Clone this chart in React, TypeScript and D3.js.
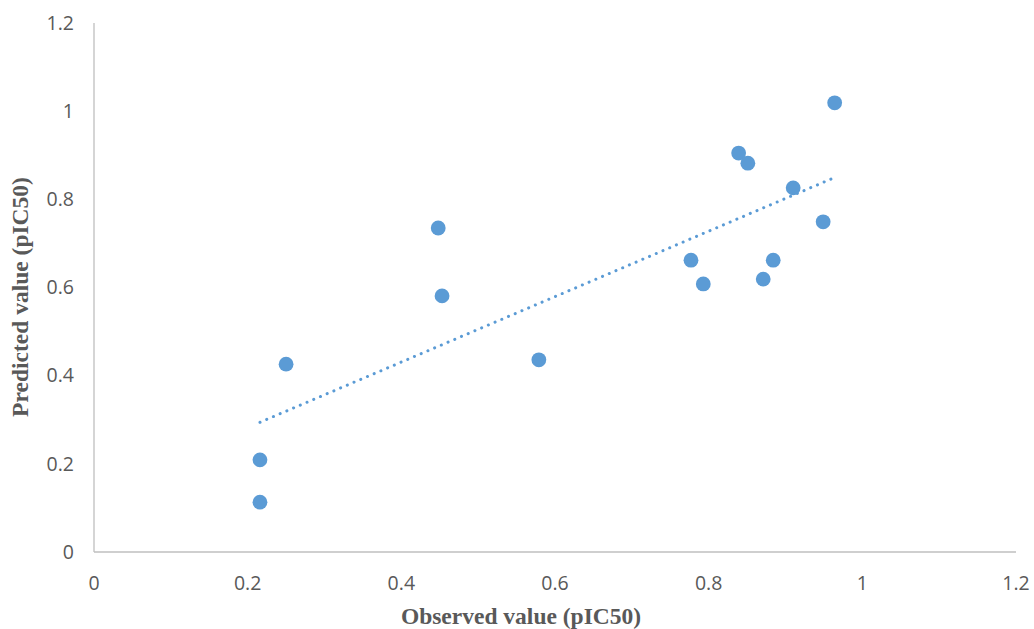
import React from "react";
import * as d3 from "d3";

// observed vs predicted pIC50 values
const observed = [0.216, 0.216, 0.25, 0.448, 0.453, 0.579, 0.777, 0.793, 0.839, 0.851, 0.871, 0.884, 0.91, 0.949, 0.964];
const predicted = [0.209, 0.113, 0.426, 0.735, 0.581, 0.436, 0.662, 0.608, 0.905, 0.882, 0.619, 0.662, 0.826, 0.749, 1.019];
const xTicks = [0, 0.2, 0.4, 0.6, 0.8, 1, 1.2];
const yTicks = [0, 0.2, 0.4, 0.6, 0.8, 1, 1.2];

const W = 1034;
const H = 629;
const margin = { top: 23, right: 18, bottom: 77, left: 94 };

export default function App() {
  const width = W - margin.left - margin.right;
  const height = H - margin.top - margin.bottom;

  const x = d3.scaleLinear().domain([0, 1.2]).range([0, width]);
  const y = d3.scaleLinear().domain([0, 1.2]).range([height, 0]);

  // linear trendline (least squares)
  const mx = d3.mean(observed) as number;
  const my = d3.mean(predicted) as number;
  let sxy = 0, sxx = 0;
  observed.forEach((v, i) => {
    sxy += (v - mx) * (predicted[i] - my);
    sxx += (v - mx) * (v - mx);
  });
  const slope = sxy / sxx;
  const icpt = my - slope * mx;
  const [x0, x1] = d3.extent(observed) as [number, number];
  const trend = d3.line<number>().x(d => x(d)).y(d => y(slope * d + icpt));

  const tickFont = "'Open Sans', 'Liberation Sans', sans-serif";
  const titleFont = "'Liberation Serif', 'Times New Roman', serif";

  return (
    <svg width={W} height={H} style={{ position: "absolute", left: 0, top: 0, background: "#fff" }}>
      <g transform={`translate(${margin.left},${margin.top})`}>
        <line x1={0} x2={0} y1={0} y2={height} stroke="#BFBFBF" strokeWidth={1.3} />
        <line x1={0} x2={width} y1={height} y2={height} stroke="#BFBFBF" strokeWidth={1.3} />
        {yTicks.map(t => (
          <text key={"y" + t} x={-20} y={y(t)} dy="0.35em" textAnchor="end"
            fontFamily={tickFont} fontSize={19.5} fill="#595959">{t}</text>
        ))}
        {xTicks.map(t => (
          <text key={"x" + t} x={x(t)} y={height + 31} dy="0.35em" textAnchor="middle"
            fontFamily={tickFont} fontSize={19.5} fill="#595959">{t}</text>
        ))}
        {observed.map((v, i) => (
          <circle key={i} cx={x(v)} cy={y(predicted[i])} r={7.4} fill="#5B9BD5" />
        ))}
        <path d={trend([x0, x1]) || ""} fill="none" stroke="#5B9BD5" strokeWidth={3}
          strokeDasharray="0.1 7.2" strokeLinecap="round" />
      </g>
      <text x={521} y={624} textAnchor="middle"
        fontFamily={titleFont} fontWeight="bold" fontSize={23.5} fill="#595959">Observed value (pIC50)</text>
      <text transform={`translate(28,297) rotate(-90)`} textAnchor="middle"
        fontFamily={titleFont} fontWeight="bold" fontSize={23.5} fill="#595959">Predicted value (pIC50)</text>
    </svg>
  );
}
